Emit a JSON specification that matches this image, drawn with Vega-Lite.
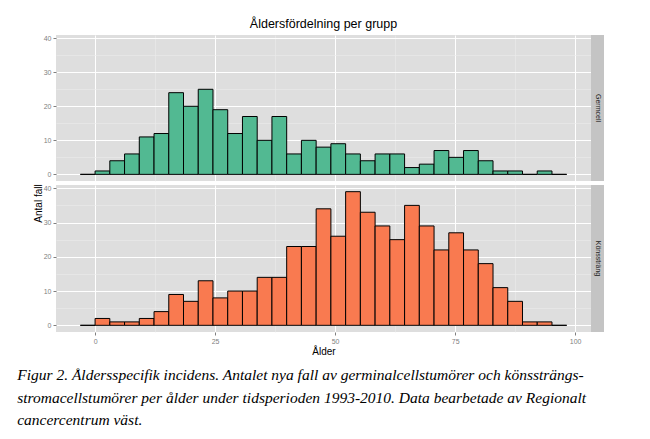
{
  "$schema": "https://vega.github.io/schema/vega-lite/v6.json",
  "background": "white",
  "padding": {"left": 17, "top": 17, "right": 5, "bottom": 2},
  "datasets": {
    "hist": [
      {"grupp": "Germcell", "fran": -3.07, "till": 0, "antal": 0},
      {"grupp": "Germcell", "fran": 0, "till": 3.07, "antal": 1},
      {"grupp": "Germcell", "fran": 3.07, "till": 6.14, "antal": 4},
      {"grupp": "Germcell", "fran": 6.14, "till": 9.21, "antal": 6},
      {"grupp": "Germcell", "fran": 9.21, "till": 12.28, "antal": 11},
      {"grupp": "Germcell", "fran": 12.28, "till": 15.35, "antal": 12},
      {"grupp": "Germcell", "fran": 15.35, "till": 18.42, "antal": 24},
      {"grupp": "Germcell", "fran": 18.42, "till": 21.49, "antal": 20},
      {"grupp": "Germcell", "fran": 21.49, "till": 24.56, "antal": 25},
      {"grupp": "Germcell", "fran": 24.56, "till": 27.63, "antal": 19},
      {"grupp": "Germcell", "fran": 27.63, "till": 30.7, "antal": 12},
      {"grupp": "Germcell", "fran": 30.7, "till": 33.77, "antal": 17},
      {"grupp": "Germcell", "fran": 33.77, "till": 36.84, "antal": 10},
      {"grupp": "Germcell", "fran": 36.84, "till": 39.91, "antal": 17},
      {"grupp": "Germcell", "fran": 39.91, "till": 42.98, "antal": 6},
      {"grupp": "Germcell", "fran": 42.98, "till": 46.05, "antal": 10},
      {"grupp": "Germcell", "fran": 46.05, "till": 49.12, "antal": 8},
      {"grupp": "Germcell", "fran": 49.12, "till": 52.19, "antal": 9},
      {"grupp": "Germcell", "fran": 52.19, "till": 55.26, "antal": 6},
      {"grupp": "Germcell", "fran": 55.26, "till": 58.33, "antal": 4},
      {"grupp": "Germcell", "fran": 58.33, "till": 61.4, "antal": 6},
      {"grupp": "Germcell", "fran": 61.4, "till": 64.47, "antal": 6},
      {"grupp": "Germcell", "fran": 64.47, "till": 67.54, "antal": 2},
      {"grupp": "Germcell", "fran": 67.54, "till": 70.61, "antal": 3},
      {"grupp": "Germcell", "fran": 70.61, "till": 73.68, "antal": 7},
      {"grupp": "Germcell", "fran": 73.68, "till": 76.75, "antal": 5},
      {"grupp": "Germcell", "fran": 76.75, "till": 79.82, "antal": 7},
      {"grupp": "Germcell", "fran": 79.82, "till": 82.89, "antal": 4},
      {"grupp": "Germcell", "fran": 82.89, "till": 85.96, "antal": 1},
      {"grupp": "Germcell", "fran": 85.96, "till": 89.03, "antal": 1},
      {"grupp": "Germcell", "fran": 89.03, "till": 92.1, "antal": 0},
      {"grupp": "Germcell", "fran": 92.1, "till": 95.17, "antal": 1},
      {"grupp": "Germcell", "fran": 95.17, "till": 98.24, "antal": 0},
      {"grupp": "Könssträng", "fran": -3.07, "till": 0, "antal": 0},
      {"grupp": "Könssträng", "fran": 0, "till": 3.07, "antal": 2},
      {"grupp": "Könssträng", "fran": 3.07, "till": 6.14, "antal": 1},
      {"grupp": "Könssträng", "fran": 6.14, "till": 9.21, "antal": 1},
      {"grupp": "Könssträng", "fran": 9.21, "till": 12.28, "antal": 2},
      {"grupp": "Könssträng", "fran": 12.28, "till": 15.35, "antal": 4},
      {"grupp": "Könssträng", "fran": 15.35, "till": 18.42, "antal": 9},
      {"grupp": "Könssträng", "fran": 18.42, "till": 21.49, "antal": 7},
      {"grupp": "Könssträng", "fran": 21.49, "till": 24.56, "antal": 13},
      {"grupp": "Könssträng", "fran": 24.56, "till": 27.63, "antal": 8},
      {"grupp": "Könssträng", "fran": 27.63, "till": 30.7, "antal": 10},
      {"grupp": "Könssträng", "fran": 30.7, "till": 33.77, "antal": 10},
      {"grupp": "Könssträng", "fran": 33.77, "till": 36.84, "antal": 14},
      {"grupp": "Könssträng", "fran": 36.84, "till": 39.91, "antal": 14},
      {"grupp": "Könssträng", "fran": 39.91, "till": 42.98, "antal": 23},
      {"grupp": "Könssträng", "fran": 42.98, "till": 46.05, "antal": 23},
      {"grupp": "Könssträng", "fran": 46.05, "till": 49.12, "antal": 34},
      {"grupp": "Könssträng", "fran": 49.12, "till": 52.19, "antal": 26},
      {"grupp": "Könssträng", "fran": 52.19, "till": 55.26, "antal": 39},
      {"grupp": "Könssträng", "fran": 55.26, "till": 58.33, "antal": 33},
      {"grupp": "Könssträng", "fran": 58.33, "till": 61.4, "antal": 29},
      {"grupp": "Könssträng", "fran": 61.4, "till": 64.47, "antal": 25},
      {"grupp": "Könssträng", "fran": 64.47, "till": 67.54, "antal": 35},
      {"grupp": "Könssträng", "fran": 67.54, "till": 70.61, "antal": 29},
      {"grupp": "Könssträng", "fran": 70.61, "till": 73.68, "antal": 22},
      {"grupp": "Könssträng", "fran": 73.68, "till": 76.75, "antal": 27},
      {"grupp": "Könssträng", "fran": 76.75, "till": 79.82, "antal": 22},
      {"grupp": "Könssträng", "fran": 79.82, "till": 82.89, "antal": 18},
      {"grupp": "Könssträng", "fran": 82.89, "till": 85.96, "antal": 11},
      {"grupp": "Könssträng", "fran": 85.96, "till": 89.03, "antal": 7},
      {"grupp": "Könssträng", "fran": 89.03, "till": 92.1, "antal": 1},
      {"grupp": "Könssträng", "fran": 92.1, "till": 95.17, "antal": 1},
      {"grupp": "Könssträng", "fran": 95.17, "till": 98.24, "antal": 0}
    ]
  },
  "title": {
    "text": [
      "Figur 2. Åldersspecifik incidens. Antalet nya fall av germinalcellstumörer och könssträngs-",
      "stromacellstumörer per ålder under tidsperioden 1993-2010. Data bearbetade av Regionalt",
      "cancercentrum väst."
    ],
    "orient": "bottom",
    "anchor": "start",
    "frame": "bounds",
    "font": "Liberation Serif",
    "fontStyle": "italic",
    "fontWeight": "normal",
    "fontSize": 15.5,
    "lineHeight": 22.5,
    "color": "black",
    "offset": 12,
    "dx": -16
  },
  "config": {
    "view": {"stroke": null},
    "axis": {
      "labelFont": "Liberation Sans",
      "titleFont": "Liberation Sans",
      "labelColor": "#7F7F7F",
      "labelFontSize": 7,
      "tickColor": "#7F7F7F",
      "tickSize": 3,
      "labelPadding": 2,
      "domain": false,
      "titleFontWeight": "normal",
      "titleColor": "black",
      "titleFontSize": 10
    }
  },
  "spacing": 0,
  "hconcat": [
    {
      "spacing": 4,
      "bounds": "flush",
      "vconcat": [
        {
          "width": 535,
          "height": 146,
          "title": {"text": "Åldersfördelning per grupp", "font": "Liberation Sans", "fontSize": 12.5, "fontWeight": "normal", "color": "black", "offset": 4},
          "view": {"fill": "#DEDEDE", "stroke": null},
          "data": {"name": "hist"},
          "transform": [{"filter": "datum.grupp === 'Germcell'"}],
          "mark": {"type": "rect", "fill": "#52B992", "stroke": "black", "strokeWidth": 1},
          "encoding": {
            "x": {
              "field": "fran", "type": "quantitative",
              "scale": {"domain": [-8.14, 103.3], "nice": false, "zero": false},
              "axis": {
                "values": [0, 12.5, 25, 37.5, 50, 62.5, 75, 87.5, 100],
                "labels": false, "ticks": false, "title": null, "grid": true,
                "gridColor": {"condition": {"test": "datum.value % 25 === 0", "value": "#FFFFFF"}, "value": "#EBEBEB"},
                "gridWidth": {"condition": {"test": "datum.value % 25 === 0", "value": 1}, "value": 0.6}
              }
            },
            "x2": {"field": "till"},
            "y": {
              "field": "antal", "type": "quantitative",
              "scale": {"domain": [-1.95, 40.95], "nice": false, "zero": false},
              "axis": {
                "values": [0, 5, 10, 15, 20, 25, 30, 35, 40],
                "labelExpr": "datum.value % 10 === 0 ? datum.label : ''",
                "tickOpacity": {"condition": {"test": "datum.value % 10 === 0", "value": 1}, "value": 0},
                "gridColor": {"condition": {"test": "datum.value % 10 === 0", "value": "#FFFFFF"}, "value": "#EBEBEB"},
                "gridWidth": {"condition": {"test": "datum.value % 10 === 0", "value": 1}, "value": 0.6},
                "title": "Antal fall",
                "titleY": 168,
                "titlePadding": 0
              }
            },
            "y2": {"datum": 0}
          }
        },
        {
          "width": 535,
          "height": 147,
          "view": {"fill": "#DEDEDE", "stroke": null},
          "data": {"name": "hist"},
          "transform": [{"filter": "datum.grupp === 'Könssträng'"}],
          "mark": {"type": "rect", "fill": "#F97A50", "stroke": "black", "strokeWidth": 1},
          "encoding": {
            "x": {
              "field": "fran", "type": "quantitative",
              "scale": {"domain": [-8.14, 103.3], "nice": false, "zero": false},
              "axis": {
                "values": [0, 12.5, 25, 37.5, 50, 62.5, 75, 87.5, 100],
                "labelExpr": "datum.value % 25 === 0 ? datum.label : ''",
                "tickOpacity": {"condition": {"test": "datum.value % 25 === 0", "value": 1}, "value": 0},
                "gridColor": {"condition": {"test": "datum.value % 25 === 0", "value": "#FFFFFF"}, "value": "#EBEBEB"},
                "gridWidth": {"condition": {"test": "datum.value % 25 === 0", "value": 1}, "value": 0.6},
                "title": "Ålder",
                "titlePadding": 2
              }
            },
            "x2": {"field": "till"},
            "y": {
              "field": "antal", "type": "quantitative",
              "scale": {"domain": [-1.95, 40.95], "nice": false, "zero": false},
              "axis": {
                "values": [0, 5, 10, 15, 20, 25, 30, 35, 40],
                "labelExpr": "datum.value % 10 === 0 ? datum.label : ''",
                "tickOpacity": {"condition": {"test": "datum.value % 10 === 0", "value": 1}, "value": 0},
                "gridColor": {"condition": {"test": "datum.value % 10 === 0", "value": "#FFFFFF"}, "value": "#EBEBEB"},
                "gridWidth": {"condition": {"test": "datum.value % 10 === 0", "value": 1}, "value": 0.6},
                "title": null
              }
            },
            "y2": {"datum": 0}
          }
        }
      ]
    },
    {
      "spacing": 4,
      "bounds": "flush",
      "vconcat": [
        {
          "width": 13,
          "height": 146,
          "view": {"fill": "#C4C4C4", "stroke": null},
          "data": {"values": [{"etikett": "Germcell"}]},
          "mark": {"type": "text", "angle": 90, "font": "Liberation Sans", "fontSize": 7, "color": "#1A1A1A", "align": "center", "baseline": "middle"},
          "encoding": {"text": {"field": "etikett"}}
        },
        {
          "width": 13,
          "height": 147,
          "view": {"fill": "#C4C4C4", "stroke": null},
          "data": {"values": [{"etikett": "Könssträng"}]},
          "mark": {"type": "text", "angle": 90, "font": "Liberation Sans", "fontSize": 7, "color": "#1A1A1A", "align": "center", "baseline": "middle"},
          "encoding": {"text": {"field": "etikett"}}
        }
      ]
    }
  ]
}
